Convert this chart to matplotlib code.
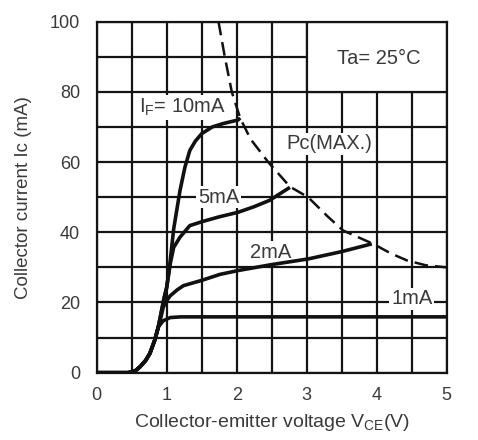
import numpy as np
import matplotlib
matplotlib.use("Agg")
import matplotlib.pyplot as plt
from matplotlib.patches import Rectangle

plt.rcParams['font.family'] = ['Liberation Sans', 'DejaVu Sans']

# ---- data ----
rise_v = [0.0, 0.45, 0.55, 0.62, 0.70, 0.76, 0.83, 0.88]
rise_i = [0.0, 0.0, 0.5, 1.7, 3.5, 5.5, 9.3, 13.0]

if1_v = [0.95, 1.05, 1.20, 5.00]
if1_i = [14.8, 15.7, 15.9, 15.9]

if2_v = [0.92, 0.95, 1.00, 1.05, 1.15, 1.24, 1.50, 1.76, 2.02, 2.50, 3.02, 3.50, 3.93]
if2_i = [16.0, 18.6, 20.5, 21.9, 23.6, 24.8, 26.3, 28.0, 29.1, 30.8, 32.4, 34.5, 36.7]

if5_v = [0.92, 0.96, 1.00, 1.05, 1.10, 1.19, 1.33, 1.50, 1.75, 2.02, 2.25, 2.47, 2.76]
if5_i = [17.0, 21.0, 24.3, 31.0, 35.7, 38.6, 41.9, 43.0, 44.4, 45.7, 47.3, 49.1, 52.8]

if10_v = [0.92, 0.96, 1.00, 1.04, 1.10, 1.19, 1.26, 1.33, 1.41, 1.50, 1.65, 1.81, 2.02, 2.05]
if10_i = [17.0, 21.0, 24.3, 30.0, 41.0, 51.9, 58.5, 63.3, 66.0, 68.1, 70.0, 71.0, 72.0, 72.6]

pc_v = [1.74, 1.83, 1.93, 2.05, 2.20, 2.45, 2.76, 3.02, 3.30, 3.52, 3.95, 4.20, 4.43, 4.70, 5.00]
pc_i = [100.0, 90.0, 80.0, 72.5, 66.5, 60.0, 53.0, 50.0, 44.5, 40.5, 36.7, 34.0, 32.0, 30.6, 30.0]

x_ticks = [0, 1, 2, 3, 4, 5]
y_ticks = [0, 20, 40, 60, 80, 100]

# ---- figure ----
fig = plt.figure(figsize=(4.78, 4.40), dpi=100)
ax = fig.add_axes([0.2023, 0.153, 0.7322, 0.7977])
ax.set_xlim(0, 5)
ax.set_ylim(0, 100)

gc = '#141414'
glw = 1.6
ax.set_xticks(x_ticks)
ax.set_yticks(y_ticks)
ax.set_xticks(np.arange(0, 5.01, 0.5), minor=True)
ax.set_yticks(np.arange(0, 100.1, 10), minor=True)
ax.set_axisbelow(True)
ax.grid(True, which='both', color=gc, lw=glw)
ax.tick_params(which='both', length=0)
ax.tick_params(axis='x', pad=10, labelsize=13, labelcolor='#3a3a3a')
ax.tick_params(axis='y', pad=12, labelsize=13, labelcolor='#3a3a3a')
for s in ax.spines.values():
    s.set_color(gc)
    s.set_linewidth(glw)

# white box for temperature note
ax.add_patch(Rectangle((3, 80), 2, 20, facecolor='white', edgecolor=gc, lw=glw, zorder=1))
ax.text(4.03, 89.5, 'Ta= 25°C', ha='center', va='center', fontsize=14.5, color='#3a3a3a', zorder=2)

cl = '#111111'
for v, i in [(if1_v, if1_i), (if2_v, if2_i), (if5_v, if5_i), (if10_v, if10_i)]:
    ax.plot(rise_v + v, rise_i + i, color=cl, lw=2.6, zorder=3,
            solid_joinstyle='round', solid_capstyle='butt')

ax.plot(pc_v, pc_i, color=cl, lw=1.8, linestyle=(0, (5.5, 2.8)), zorder=3)

bb = dict(facecolor='white', edgecolor='none', pad=1.2)
lab_kw = dict(ha='center', va='center', fontsize=14.5, color='#3a3a3a', zorder=2, bbox=bb)
ax.text(1.23, 75.5, r'I$_\mathregular{F}$= 10mA', **lab_kw)
ax.text(3.32, 65.2, 'Pc(MAX.)', **lab_kw)
ax.text(1.74, 50.0, '5mA', **lab_kw)
ax.text(2.49, 34.3, '2mA', **lab_kw)
ax.text(4.50, 21.0, '1mA', **lab_kw)

ax.set_xlabel(r'Collector-emitter voltage V$_\mathregular{CE}$(V)', fontsize=14, color='#3a3a3a', labelpad=6)
ax.set_ylabel('Collector current Ic (mA)', fontsize=13.5, color='#3a3a3a', labelpad=13)

fig.savefig('out.png', dpi=100, facecolor='white')
